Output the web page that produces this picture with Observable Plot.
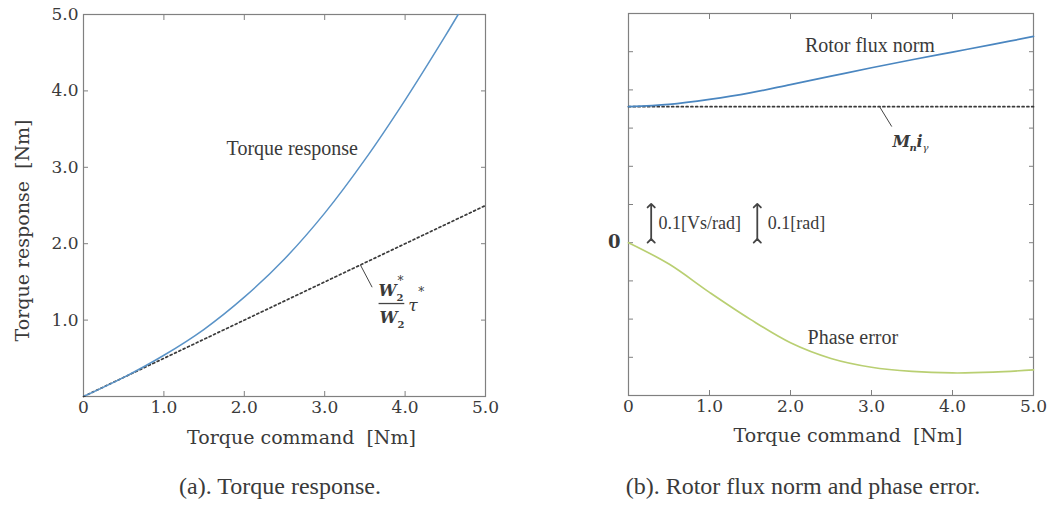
<!DOCTYPE html>
<html>
<head>
<meta charset="utf-8">
<script src="https://cdn.jsdelivr.net/npm/d3@7"></script>
<script src="https://cdn.jsdelivr.net/npm/@observablehq/plot@0.6"></script>
<style>
  html, body { margin: 0; padding: 0; background: #fff; }
  #wrap { position: relative; width: 1059px; height: 509px; overflow: hidden; background: #fff; }
  .panel { position: absolute; top: 0; }
  .cap { position: absolute; top: 473px; font-family: "Liberation Serif", serif; font-size: 24px; color: #3a3a3a; text-align: center; }
</style>
</head>
<body>
<div id="wrap">
  <div class="panel" id="pa" style="left:0px"></div>
  <div class="panel" id="pb" style="left:530px"></div>
  <div class="cap" id="capA" style="left:0px;width:560px"></div>
  <div class="cap" id="capB" style="left:503px;width:600px"></div>
</div>
<script>
// ---------- data ----------
const xTicks = [0, 1, 2, 3, 4, 5];
const xInnerTicks = [1, 2, 3, 4];
const yTicksA = [1, 2, 3, 4, 5];
const yInnerTicksA = [1, 2, 3, 4];
const yTicksB = [-0.3, -0.2, -0.1, 0, 0.1, 0.2, 0.3, 0.4, 0.5];

// (a) torque response vs command
const torqueCmd = [0, 0.5, 1.0, 1.5, 2.0, 2.5, 3.0, 3.5, 4.0, 4.5, 4.66];
const torqueResp = [0, 0.25, 0.54, 0.88, 1.30, 1.80, 2.40, 3.10, 3.88, 4.72, 5.0];
const idealCmd = [0, 5];
const idealResp = [0, 2.5];

// (b) rotor flux norm and phase error
const cmdB = [0, 0.5, 1.0, 1.5, 2.0, 2.5, 3.0, 3.5, 4.0, 4.5, 5.0];
const fluxNorm = [0.356, 0.362, 0.375, 0.392, 0.414, 0.436, 0.458, 0.479, 0.499, 0.519, 0.540];
const mniLevel = [0.356, 0.356];
const mniCmd = [0, 5];
const phaseErr = [0, -0.056, -0.13, -0.2, -0.262, -0.303, -0.326, -0.337, -0.341, -0.339, -0.333];

// labels
const xTitle = "Torque command  [Nm]";
const yTitleA = "Torque response  [Nm]";
const captionA = "(a). Torque response.";
const captionB = "(b). Rotor flux norm and phase error.";
const labelTorque = {x: 3.5, y: 3.25, text: "Torque response"};
const labelFlux = {x: 2.98, y: 0.516, text: "Rotor flux norm"};
const labelPhase = {x: 2.77, y: -0.249, text: "Phase error"};
const leaderA = {x1: 3.445, y1: 1.72, x2: 3.59, y2: 1.43};
const fracA = {x1: 3.67, x2: 3.99, y: 1.217};
const leaderB = {x1: 3.10, y1: 0.356, x2: 3.25, y2: 0.304};
const mniAnchor = {x: 3.26, y: 0.264};
const scaleBars = [
  {x: 0.28, y1: 0.005, y2: 0.097, tx: 0.37, ty: 0.052, text: "0.1[Vs/rad]"},
  {x: 1.59, y1: 0.005, y2: 0.097, tx: 1.72, ty: 0.052, text: "0.1[rad]"}
];

// ---------- build tables ----------
const torqueData = torqueCmd.map((x, i) => ({x, y: torqueResp[i]}));
const idealData = idealCmd.map((x, i) => ({x, y: idealResp[i]}));
const fluxData = cmdB.map((x, i) => ({x, y: fluxNorm[i]}));
const mniData = mniCmd.map((x, i) => ({x, y: mniLevel[i]}));
const phaseData = cmdB.map((x, i) => ({x, y: phaseErr[i]}));

const SERIF = "'Liberation Serif', 'Times New Roman', serif";
const WIDE = "'DejaVu Serif', serif";
const INK = "#3a3a3a";
const FRAME = "#808080";
const fmtX = d => d === 0 ? "0" : d.toFixed(1);

function tickAxes(xs, ys) {
  return [
    Plot.axisX(xs, {anchor: "bottom", tickSize: 5, dy: -5, fill: "none", stroke: FRAME, label: null}),
    Plot.axisX(xs, {anchor: "top", tickSize: 5, dy: 5, fill: "none", stroke: FRAME, label: null}),
    Plot.axisY(ys, {anchor: "left", tickSize: 5, dx: 5, fill: "none", stroke: FRAME, label: null}),
    Plot.axisY(ys, {anchor: "right", tickSize: 5, dx: -5, fill: "none", stroke: FRAME, label: null})
  ];
}

const style = {fontFamily: SERIF, fontSize: "19px", color: INK, background: "white", overflow: "visible"};

function fracPiece(text, anchorX, opts) {
  return Plot.text([fracA], {x: anchorX, y: "y", text: () => text, textAnchor: "start", fill: INK, fontFamily: WIDE, ...opts});
}
function mniPiece(text, opts) {
  return Plot.text([mniAnchor], {x: "x", y: "y", text: () => text, textAnchor: "start", fill: INK, fontFamily: WIDE, fontStyle: "italic", ...opts});
}

// ---------- panel (a) ----------
const plotA = Plot.plot({
  width: 530, height: 470,
  marginLeft: 83, marginRight: 45, marginTop: 14, marginBottom: 74,
  x: {domain: [0, 5]},
  y: {domain: [0, 5]},
  style,
  marks: [
    ...tickAxes(xInnerTicks, yInnerTicksA),
    Plot.axisX(xTicks, {anchor: "bottom", tickSize: 0, tickPadding: 4, tickFormat: fmtX, label: null, fontSize: 17, fontFamily: WIDE}),
    Plot.axisY(yTicksA, {anchor: "left", tickSize: 0, tickPadding: 5, tickFormat: d => d.toFixed(1), label: null, fontSize: 17, fontFamily: WIDE}),
    Plot.frame({stroke: FRAME, strokeWidth: 1.2}),
    Plot.line(idealData, {x: "x", y: "y", stroke: "#3a3a3a", strokeWidth: 1.7, strokeDasharray: "2,2.8"}),
    Plot.line(torqueData, {x: "x", y: "y", stroke: "#5a93c7", strokeWidth: 1.5, curve: "catmull-rom", clip: true}),
    Plot.text([labelTorque], {x: "x", y: "y", text: "text", fontSize: 20, fill: INK, textAnchor: "end", dx: -7}),
    Plot.link([leaderA], {x1: "x1", y1: "y1", x2: "x2", y2: "y2", stroke: "#444", strokeWidth: 1}),
    Plot.link([fracA], {x1: "x1", x2: "x2", y1: "y", y2: "y", stroke: "#444", strokeWidth: 1.3}),
    fracPiece("W", "x1", {fontStyle: "italic", fontWeight: "bold", fontSize: 16, dx: 0, dy: -13}),
    fracPiece("2", "x1", {fontWeight: "bold", fontSize: 10, dx: 18, dy: -6}),
    fracPiece("*", "x1", {fontSize: 12, dx: 19, dy: -22}),
    fracPiece("W", "x1", {fontStyle: "italic", fontWeight: "bold", fontSize: 16, dx: 1, dy: 14}),
    fracPiece("2", "x1", {fontWeight: "bold", fontSize: 10, dx: 19, dy: 21}),
    fracPiece("τ", "x2", {fontStyle: "italic", fontSize: 17, dx: 4, dy: 2}),
    fracPiece("*", "x2", {fontSize: 12, dx: 14, dy: -11}),
    Plot.text([xTitle], {text: d => d, frameAnchor: "bottom", textAnchor: "middle", lineAnchor: "middle", dx: 17, dy: 41, fontSize: 19, fontFamily: WIDE, fill: INK}),
    Plot.text([yTitleA], {text: d => d, frameAnchor: "left", textAnchor: "middle", lineAnchor: "middle", dx: -61, dy: 25, rotate: -90, fontSize: 19, fontFamily: WIDE, fill: INK})
  ]
});
document.getElementById("pa").appendChild(plotA);

// ---------- panel (b) ----------
const plotB = Plot.plot({
  width: 529, height: 470,
  marginLeft: 98, marginRight: 26, marginTop: 13, marginBottom: 75,
  x: {domain: [0, 5]},
  y: {domain: [-0.4, 0.6]},
  style,
  marks: [
    ...tickAxes(xInnerTicks, yTicksB),
    Plot.axisX(xTicks, {anchor: "bottom", tickSize: 0, tickPadding: 4, tickFormat: fmtX, label: null, fontSize: 17, fontFamily: WIDE}),
    Plot.axisY([0], {anchor: "left", tickSize: 0, tickPadding: 8, tickFormat: () => "0", label: null, fontSize: 18, fontFamily: WIDE, fontWeight: "bold"}),
    Plot.frame({stroke: FRAME, strokeWidth: 1.2}),
    Plot.line(mniData, {x: "x", y: "y", stroke: "#3a3a3a", strokeWidth: 1.7, strokeDasharray: "2,2.8"}),
    Plot.line(fluxData, {x: "x", y: "y", stroke: "#4a86c0", strokeWidth: 1.7, curve: "catmull-rom"}),
    Plot.line(phaseData, {x: "x", y: "y", stroke: "#b9cf72", strokeWidth: 1.7, curve: "catmull-rom"}),
    Plot.text([labelFlux], {x: "x", y: "y", text: "text", fontSize: 20, fill: INK}),
    Plot.text([labelPhase], {x: "x", y: "y", text: "text", fontSize: 20, fill: INK}),
    Plot.link([leaderB], {x1: "x1", y1: "y1", x2: "x2", y2: "y2", stroke: "#444", strokeWidth: 1}),
    mniPiece("M", {fontWeight: "bold", fontSize: 16}),
    mniPiece("n", {fontWeight: "bold", fontSize: 10, dx: 17, dy: 6}),
    mniPiece("i", {fontWeight: "bold", fontSize: 16, dx: 24}),
    mniPiece("γ", {fontSize: 10, dx: 30, dy: 6}),
    Plot.link(scaleBars, {x1: "x", x2: "x", y1: "y1", y2: "y2", stroke: "#444", strokeWidth: 1.8, markerStart: "arrow", markerEnd: "arrow"}),
    Plot.text(scaleBars, {x: "tx", y: "ty", text: "text", fontSize: 18, textAnchor: "start", fill: INK}),
    Plot.text([xTitle], {text: d => d, frameAnchor: "bottom", textAnchor: "middle", lineAnchor: "middle", dx: 17, dy: 40, fontSize: 19, fontFamily: WIDE, fill: INK})
  ]
});
document.getElementById("pb").appendChild(plotB);

document.getElementById("capA").textContent = captionA;
document.getElementById("capB").textContent = captionB;
</script>
</body>
</html>
